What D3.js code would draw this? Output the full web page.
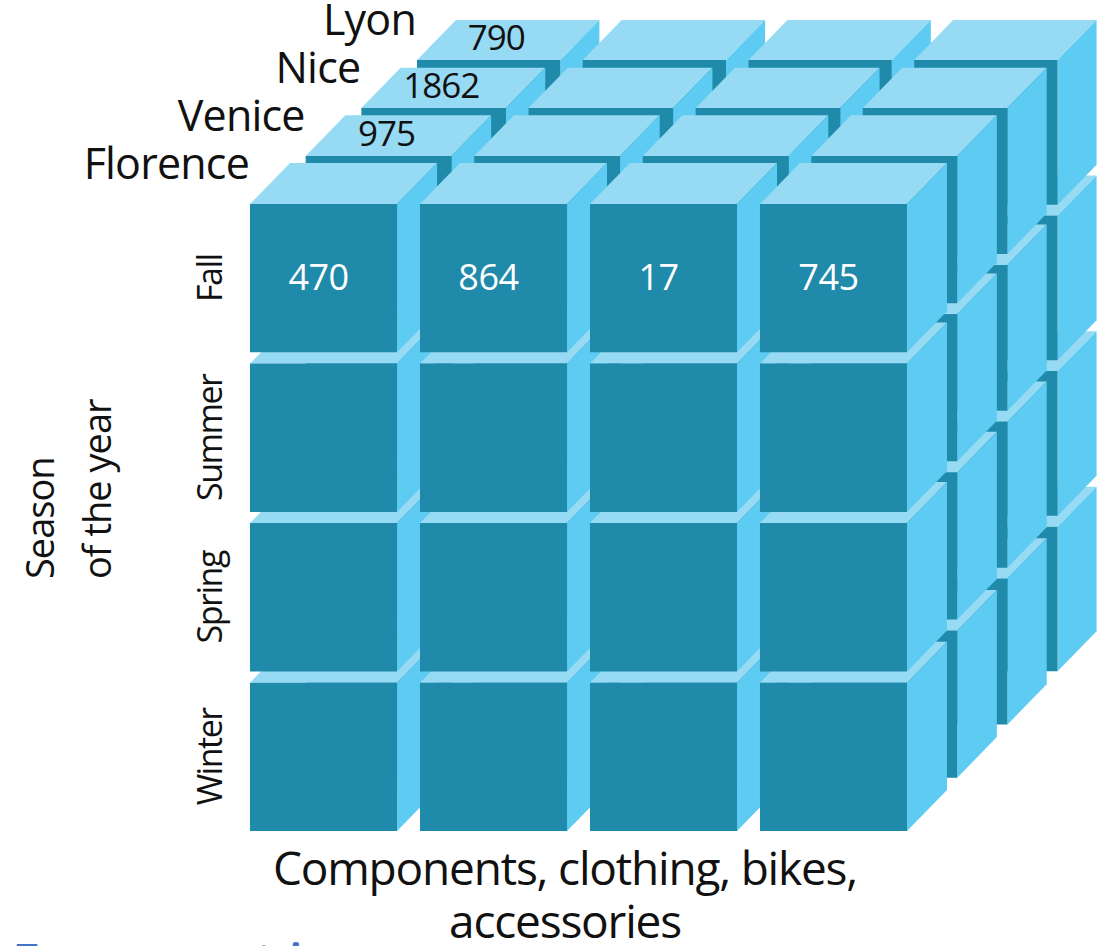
<!DOCTYPE html>
<html><head><meta charset="utf-8">
<script src="https://cdn.jsdelivr.net/npm/d3@7"></script>
<style>
body{margin:0;background:#fff;overflow:hidden}
text{font-family:"Open Sans",sans-serif}
</style>
</head><body>
<svg id="chart" width="1106" height="946"></svg>
<script>
// ---- data ----
const cities = ["Florence", "Venice", "Nice", "Lyon"];
const seasons = ["Fall", "Summer", "Spring", "Winter"];
const products = ["Components", "Clothing", "Bikes", "Accessories"];
const fallFlorenceValues = [470, 864, 17, 745];          // front layer, Fall row, per product
const fallComponentsByCity = [null, 975, 1862, 790];      // top faces, Components column, per city
const seasonTitle = ["Season", "of the year"];
const productTitle = ["Components, clothing, bikes,", "accessories"];
const footerText = "Two core metrics";

// ---- layout ----
const svg = d3.select("#chart");
const colors = {front: "#208aab", top: "#97daf3", side: "#5dcbf2"};

const xs = d3.scaleBand().domain(products).range([0, 657]).paddingInner(0.135).paddingOuter(0);
const ys = d3.scaleBand().domain(seasons).range([0, 627]).paddingInner(0.07).paddingOuter(0);
const zs = d3.scalePoint().domain(cities).range([0, 3]);
const layerDx = d3.scaleLinear().domain([0, 3]).range([250, 417]);
const layerDy = d3.scaleLinear().domain([0, 3]).range([204, 60]);
const layerS = d3.scaleLinear().domain([0, 3]).range([1, 0.975]);

function P(x, y, city) {
  const k = zs(city), s = layerS(k);
  return [layerDx(k) + s * x, layerDy(k) + s * y];
}
function D(city) { const s = layerS(zs(city)); return [40 * s, -41 * s]; }
const add = (a, b) => [a[0] + b[0], a[1] + b[1]];
const line = d3.line();

const cells = [];
cities.slice().reverse().forEach(city => {
  seasons.slice().reverse().forEach(season => {
    products.forEach(product => cells.push({city, season, product}));
  });
});

const g = svg.append("g");
cells.forEach(c => {
  const x0 = xs(c.product), x1 = x0 + xs.bandwidth();
  const y0 = ys(c.season), y1 = y0 + ys.bandwidth();
  const d = D(c.city);
  const a = P(x0, y0, c.city), b = P(x1, y0, c.city), cc = P(x1, y1, c.city), e = P(x0, y1, c.city);
  g.append("path").attr("d", line([a, add(a, d), add(b, d), b]) + "Z").attr("fill", colors.top);
  g.append("path").attr("d", line([b, add(b, d), add(cc, d), cc]) + "Z").attr("fill", colors.side);
  g.append("path").attr("d", line([a, b, cc, e]) + "Z").attr("fill", colors.front);
});

// front values (Florence, Fall)
products.forEach((p, i) => {
  const [x, y] = P(xs(p) + xs.bandwidth() / 2, ys("Fall"), "Florence");
  svg.append("text").attr("x", x - 5).attr("y", y + 86)
    .attr("text-anchor", "middle").attr("fill", "#fff")
    .attr("font-size", 36).attr("letter-spacing", -0.5)
    .text(fallFlorenceValues[i]);
});

// top values (Components, Fall, back cities)
cities.forEach((city, i) => {
  const v = fallComponentsByCity[i];
  if (v == null) return;
  const d = D(city);
  const [x, y] = add(P(xs("Components") + xs.bandwidth() / 2, ys("Fall"), city), [d[0] / 2, d[1] / 2]);
  svg.append("text").attr("x", x - 12).attr("y", y + 10)
    .attr("text-anchor", "middle").attr("fill", "#111")
    .attr("font-size", 35).attr("letter-spacing", -1)
    .text(v);
});

// city labels
cities.forEach(city => {
  const [x, y] = P(0, 0, city);
  svg.append("text").attr("x", x - 1).attr("y", y - 25)
    .attr("text-anchor", "end").attr("fill", "#111")
    .attr("font-size", 43).attr("letter-spacing", -0.8)
    .text(city);
});

// season labels
seasons.forEach(season => {
  const [, y] = P(0, ys(season) + ys.bandwidth() / 2, "Florence");
  svg.append("text").attr("transform", `translate(222,${y}) rotate(-90)`)
    .attr("text-anchor", "middle").attr("fill", "#111")
    .attr("font-size", 34).attr("letter-spacing", -1.5)
    .text(season);
});

// season axis title
seasonTitle.forEach((t, i) => {
  svg.append("text").attr("transform", `translate(${[54, 111][i]},579) rotate(-90)`)
    .attr("text-anchor", "start").attr("fill", "#111")
    .attr("font-size", 38).attr("letter-spacing", -1)
    .text(t);
});

// product axis title
productTitle.forEach((t, i) => {
  svg.append("text").attr("x", 565).attr("y", [885, 938][i])
    .attr("text-anchor", "middle").attr("fill", "#111")
    .attr("font-size", 46).attr("letter-spacing", -1.2)
    .text(t);
});

// footer heading (cut off at bottom)
svg.append("text").attr("x", 16).attr("y", 971)
  .attr("fill", "#4472c4").attr("font-size", 38).attr("font-weight", 700)
  .text(footerText);
</script>
</body></html>
